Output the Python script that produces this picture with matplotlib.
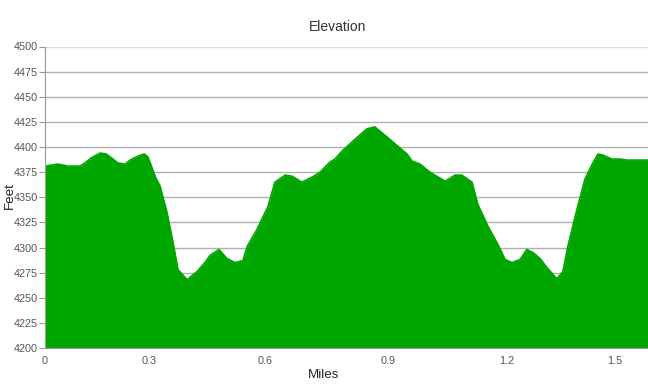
import matplotlib
matplotlib.use('Agg')
import matplotlib.pyplot as plt

plt.rcParams['font.family'] = ['Liberation Sans', 'DejaVu Sans']

# elevation profile
miles = [0.000, 0.034, 0.061, 0.092, 0.105, 0.121, 0.145, 0.161, 0.179, 0.192,
         0.211, 0.224, 0.245, 0.261, 0.271, 0.279, 0.292, 0.303, 0.321, 0.337,
         0.350, 0.374, 0.400, 0.421, 0.434, 0.458, 0.479, 0.500, 0.521, 0.532,
         0.558, 0.587, 0.605, 0.632, 0.650, 0.676, 0.703, 0.724, 0.750, 0.763,
         0.782, 0.811, 0.847, 0.868, 0.900, 0.934, 0.953, 0.966, 0.987, 1.013,
         1.053, 1.079, 1.097, 1.124, 1.139, 1.166, 1.192, 1.211, 1.229, 1.250,
         1.268, 1.284, 1.303, 1.321, 1.347, 1.363, 1.376, 1.400, 1.421, 1.439,
         1.455, 1.468, 1.492, 1.513, 1.532, 1.587]
feet = [4381, 4383, 4381, 4381, 4384, 4389, 4394, 4393, 4388, 4384,
        4383, 4387, 4391, 4393, 4390, 4382, 4369, 4361, 4335, 4305,
        4278, 4268, 4276, 4285, 4292, 4298, 4289, 4285, 4287, 4301,
        4318, 4341, 4365, 4372, 4371, 4365, 4370, 4375, 4385, 4388,
        4396, 4406, 4418, 4420, 4410, 4399, 4393, 4386, 4383, 4375,
        4366, 4372, 4372, 4365, 4343, 4321, 4303, 4288, 4285, 4288,
        4298, 4295, 4289, 4280, 4269, 4276, 4301, 4338, 4368, 4382,
        4393, 4392, 4388, 4388, 4387, 4387]

# x labels sit on data points, shown rounded
xtick_pos = [0.0, 0.2745, 0.5797, 0.9034, 1.215, 1.5]
xtick_labels = ['0', '0.3', '0.6', '0.9', '1.2', '1.5']
ytick_vals = list(range(4200, 4501, 25))

fig = plt.figure(figsize=(6.48, 3.90), dpi=100)
ax = fig.add_axes([45 / 648, 1 - 348 / 390, 1 - 45 / 648, (348 - 46.5) / 390])

green = '#00a600'
ax.fill_between(miles, 4200, feet, color=green, linewidth=0, zorder=2)
ax.plot(miles, feet, color=green, linewidth=1.2, zorder=2)

ax.set_xlim(0, 1.587)
ax.set_ylim(4200, 4500)
ax.set_yticks(ytick_vals)
ax.set_xticks(xtick_pos)
ax.set_xticklabels(xtick_labels)

for v in ytick_vals[1:]:
    ax.axhline(v, color='#dddddd' if v == 4500 else '#b0b0b0', linewidth=1, zorder=1)

for side in ['top', 'right']:
    ax.spines[side].set_visible(False)
ax.spines['left'].set_color('#999999')
ax.spines['bottom'].set_color('#999999')
ax.spines['left'].set_zorder(3)
ax.spines['bottom'].set_zorder(3)

ax.tick_params(axis='y', length=4, width=0.8, color='#999999', labelcolor='#555555',
               labelsize=7.8, pad=1)
ax.tick_params(axis='x', length=0, labelcolor='#555555', labelsize=7.8, pad=6)

fig.text(337.7 / 648, 1 - 27 / 390, 'Elevation', ha='center', va='center',
         fontsize=10, color='#333333')
fig.text(323.5 / 648, 1 - 375 / 390, 'Miles', ha='center', va='center',
         fontsize=9.6, color='#222222')
fig.text(10 / 648, 1 - 196 / 390, 'Feet', ha='center', va='center', rotation=90,
         fontsize=9.6, color='#222222')

fig.savefig('out.png', dpi=100)
